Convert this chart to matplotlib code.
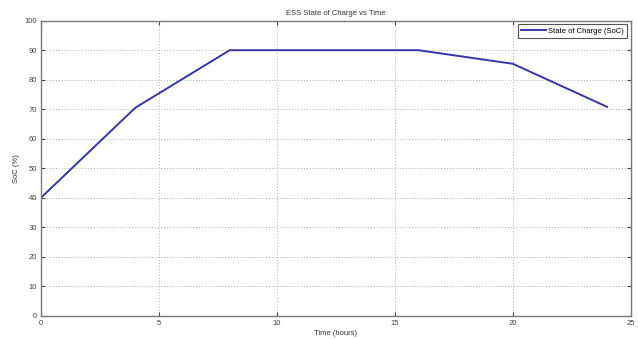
import matplotlib
matplotlib.use("Agg")
import matplotlib.pyplot as plt

# Values
time_h = [0, 4, 8, 16, 20, 24]
soc_pct = [40, 70.5, 90, 90, 85.4, 70.8]
x_ticks = [0, 5, 10, 15, 20, 25]
y_ticks = list(range(0, 101, 10))

LINE = "#3535a8"
FRAME = "#7a7a7a"
FS = 5.5

plt.rcParams["font.family"] = ["Liberation Sans", "DejaVu Sans"]

fig = plt.figure(figsize=(6.38, 3.39), dpi=100)
ax = fig.add_axes([41 / 638, 1 - 315.7 / 339, (630.7 - 41) / 638, (315.7 - 20.7) / 339])

ax.plot(time_h, soc_pct, color=LINE, lw=1.4, label="State of Charge (SoC)")

ax.set_xlim(0, 25)
ax.set_ylim(0, 100)
ax.set_xticks(x_ticks)
ax.set_yticks(y_ticks)
ax.grid(True, ls=(0, (1, 2)), color="#b0b0b0", lw=0.7)
ax.tick_params(direction="in", top=True, right=True, labelsize=FS, length=3,
               colors="#444444", pad=3)
for s in ax.spines.values():
    s.set_color(FRAME)
    s.set_linewidth(1.0)

ax.set_title("ESS State of Charge vs Time", fontsize=FS, color="#333333", pad=4)
ax.set_xlabel("Time (hours)", fontsize=FS, color="#333333", labelpad=2)
ax.set_ylabel("SoC (%)", fontsize=FS, color="#333333", labelpad=3)

leg = ax.legend(loc="upper right", fontsize=FS, fancybox=False, framealpha=1,
                handlelength=3.2, handletextpad=0.3, borderpad=0.45,
                borderaxespad=0.45)
leg.get_frame().set_edgecolor("#555555")
leg.get_frame().set_linewidth(0.8)

fig.savefig("out.png", dpi=100)
